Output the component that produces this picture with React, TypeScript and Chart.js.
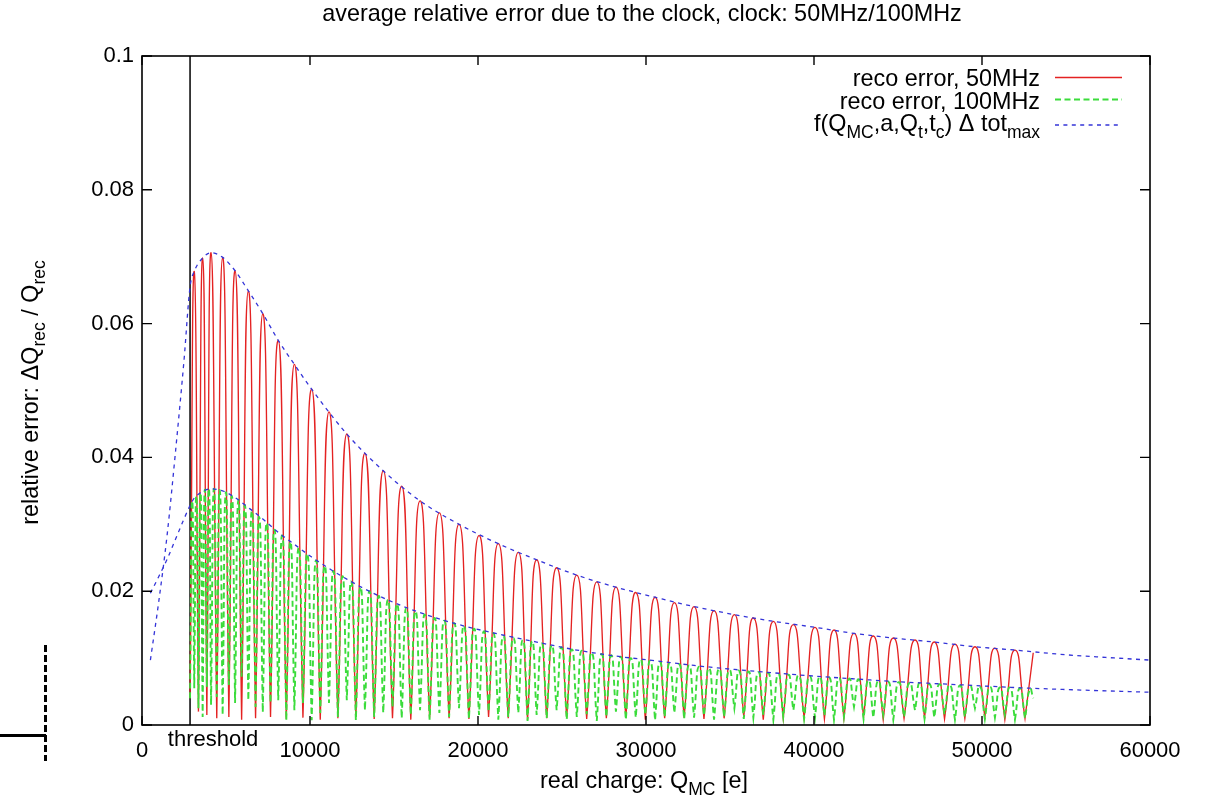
import React, { useEffect, useRef } from "react";
import { Chart, registerables } from "chart.js";

Chart.register(...registerables);

const FONT = '"Liberation Sans", Arial, Helvetica, sans-serif';

// ---------------- data ----------------
const thresholdQ = 2860;

const xTickValues = [0, 10000, 20000, 30000, 40000, 50000, 60000];
const xTickLabels = ["0", "10000", "20000", "30000", "40000", "50000", "60000"];
const yTickValues = [0, 0.02, 0.04, 0.06, 0.08, 0.1];
const yTickLabels = ["0", "0.02", "0.04", "0.06", "0.08", "0.1"];

// 50 MHz reconstruction error: cusps (troughs) and arch tops
const redTroughQ = [2860, 3360, 3860, 4450, 5170, 5930, 6760, 7650, 8590, 9580, 10610, 11660, 12730, 13820, 14910, 16000, 17120, 18280, 19460, 20630, 21800, 22950, 24090, 25280, 26470, 27640, 28800, 29960, 31110, 32270, 33450, 34650, 35820, 36980, 38170, 39410, 40620, 41780, 42950, 44120, 45360, 46580, 47770, 48980, 50170, 51360, 52560];
const redTroughVal = [0.004, 0.002, 0.0015, 0.001, 0.0012, 0.0008, 0.001, 0.0012, 0.0009, 0.0011, 0.0008, 0.001, 0.0012, 0.0009, 0.001, 0.0008, 0.0011, 0.001, 0.0009, 0.0012, 0.001, 0.0008, 0.001, 0.0011, 0.0009, 0.001, 0.0012, 0.0008, 0.001, 0.0011, 0.0009, 0.001, 0.0012, 0.0008, 0.001, 0.0011, 0.0009, 0.001, 0.0012, 0.0008, 0.001, 0.0011, 0.0009, 0.001, 0.0012, 0.0008, 0.001];
const redPeakQ = [3110, 3610, 4110, 4800, 5540, 6330, 7190, 8110, 9070, 10100, 11130, 12190, 13270, 14360, 15460, 16550, 17700, 18870, 20060, 21210, 22400, 23490, 24680, 25880, 27070, 28210, 29390, 30540, 31690, 32860, 34050, 35260, 36390, 37580, 38770, 40060, 41190, 42380, 43530, 44720, 46010, 47160, 48390, 49580, 50770, 51960];
const redPeakVal = [0.0678, 0.0698, 0.0706, 0.0699, 0.0679, 0.0649, 0.0615, 0.0575, 0.0539, 0.0502, 0.0468, 0.0435, 0.0406, 0.038, 0.0357, 0.0335, 0.0317, 0.03, 0.0283, 0.0271, 0.0258, 0.0247, 0.0235, 0.0224, 0.0214, 0.0206, 0.0198, 0.0191, 0.0183, 0.0177, 0.0171, 0.0165, 0.016, 0.0155, 0.015, 0.0146, 0.0142, 0.0137, 0.0133, 0.013, 0.0127, 0.0124, 0.0121, 0.0117, 0.0115, 0.0112];
const redTailQ = [53050];
const redTailVal = [0.0108];

// 100 MHz reconstruction error
const greenTroughQ = [2860, 3110, 3360, 3610, 3860, 4110, 4450, 4800, 5170, 5540, 5930, 6330, 6760, 7190, 7650, 8110, 8590, 9070, 9580, 10100,
  10610, 11130, 11660, 12190, 12730, 13270, 13820, 14360, 14910, 15460, 16000, 16550, 17120, 17700, 18280, 18870, 19460, 20060, 20630, 21210,
  21800, 22400, 22950, 23490, 24090, 24680, 25280, 25880, 26470, 27070, 27640, 28210, 28800, 29390, 29960, 30540, 31110, 31690, 32270, 32860,
  33450, 34050, 34650, 35260, 35820, 36390, 36980, 37580, 38170, 38770, 39410, 40060, 40620, 41190, 41780, 42380, 42950, 43530, 44120, 44720,
  45360, 46010, 46580, 47160, 47770, 48390, 48980, 49580, 50170, 50770, 51360, 51960, 52560];
const greenTroughVal = [0.004, 0.0055, 0.0025, 0.0012, 0.0057, 0.003, 0.0042, 0.0015, 0.006, 0.0033, 0.0072, 0.0037, 0.0027, 0.0019, 0.0033, 0.0037, 0.0007, 0.0022, 0.0033, 0.0007,
  0.0018, 0.0033, 0.0012, 0.0037, 0.0007, 0.0022, 0.0012, 0.0018, 0.0027, 0.001, 0.0015, 0.0022, 0.0008, 0.0018, 0.0012, 0.0025, 0.0009, 0.0015, 0.002, 0.0008,
  0.0012, 0.0018, 0.0006, 0.0015, 0.001, 0.0022, 0.0008, 0.0012, 0.0016, 0.0006, 0.0012, 0.002, 0.0008, 0.0011, 0.0015, 0.0007, 0.0012, 0.0018, 0.0009, 0.0011,
  0.0014, 0.0008, 0.0012, 0.0025, 0.0009, 0.0011, 0.0015, 0.0008, 0.0012, 0.0022, 0.0009, 0.0011, 0.0014, 0.0008, 0.0012, 0.0027, 0.0009, 0.0011, 0.0015, 0.0008,
  0.0012, 0.0022, 0.0009, 0.0011, 0.0016, 0.0008, 0.0012, 0.0025, 0.0009, 0.0011, 0.0015, 0.0008, 0.001];
const greenPeakQ = [2985, 3235, 3485, 3735, 3985, 4280, 4625, 4985, 5355, 5735,
  6130, 6545, 6975, 7420, 7880, 8350, 8830, 9325, 9840, 10355,
  10870, 11395, 11925, 12460, 13000, 13545, 14090, 14635, 15185, 15730,
  16275, 16835, 17410, 17990, 18575, 19165, 19760, 20345, 20920, 21505,
  22100, 22675, 23220, 23790, 24385, 24980, 25580, 26175, 26770, 27355,
  27925, 28505, 29095, 29675, 30250, 30825, 31400, 31980, 32565, 33155,
  33750, 34350, 34955, 35540, 36105, 36685, 37280, 37875, 38470, 39090,
  39735, 40340, 40905, 41485, 42080, 42665, 43240, 43825, 44420, 45040,
  45685, 46295, 46870, 47465, 48080, 48685, 49280, 49875, 50470, 51065,
  51660, 52260];
const greenPeakVal = [0.0335, 0.0342, 0.0347, 0.0351, 0.0353, 0.0353, 0.0351, 0.0347, 0.0342, 0.0336,
  0.0328, 0.032, 0.0311, 0.0302, 0.0292, 0.0283, 0.0274, 0.0265, 0.0256, 0.0246,
  0.0238, 0.023, 0.0222, 0.0214, 0.0206, 0.02, 0.0193, 0.0187, 0.0181, 0.0175,
  0.017, 0.0165, 0.016, 0.0156, 0.0152, 0.0148, 0.0144, 0.014, 0.0137, 0.0133,
  0.013, 0.0127, 0.0125, 0.0122, 0.0119, 0.0116, 0.0113, 0.0111, 0.0108, 0.0106,
  0.0104, 0.0102, 0.01, 0.0098, 0.0096, 0.0094, 0.0092, 0.0091, 0.0089, 0.0087,
  0.0085, 0.0084, 0.0082, 0.0081, 0.008, 0.0079, 0.0078, 0.0076, 0.0075, 0.0074,
  0.0073, 0.0072, 0.0071, 0.007, 0.0069, 0.0068, 0.0067, 0.0066, 0.0065, 0.0064,
  0.0063, 0.0062, 0.0061, 0.0061, 0.006, 0.0059, 0.0058, 0.0058, 0.0057, 0.0056,
  0.0056, 0.0055];
const greenTailQ = [52860, 53050];
const greenTailVal = [0.0054, 0.004];

// f(Q_MC,a,Q_t,t_c) * Δtot_max envelopes
const envQ = [500, 1000, 1500, 2000, 2500, 2860, 3110, 3610, 4110, 4800, 5540, 6330, 7190, 8110, 9070, 10100, 12190, 14360, 16550, 18870, 21210, 23490, 25880, 28210, 30540, 32860, 35260, 37580, 40060, 42380, 44720, 47160, 49580, 51960, 55000, 60000];
const env50 = [0.0097, 0.0185, 0.0285, 0.041, 0.0545, 0.0655, 0.0678, 0.0698, 0.0706, 0.0699, 0.0679, 0.0649, 0.0615, 0.0575, 0.0539, 0.0502, 0.0435, 0.038, 0.0335, 0.03, 0.0271, 0.0247, 0.0224, 0.0206, 0.0191, 0.0177, 0.0165, 0.0155, 0.0146, 0.0137, 0.013, 0.0124, 0.0117, 0.0112, 0.0105, 0.0097];
const env100 = [0.0197, 0.0222, 0.0248, 0.0278, 0.0308, 0.0328, 0.0339, 0.0349, 0.0353, 0.035, 0.034, 0.0325, 0.0308, 0.0288, 0.027, 0.0251, 0.0218, 0.019, 0.0168, 0.015, 0.0136, 0.0124, 0.0112, 0.0103, 0.0096, 0.0089, 0.0083, 0.0078, 0.0073, 0.0069, 0.0065, 0.0062, 0.0059, 0.0056, 0.0053, 0.0049];

const titleText = "average relative error due to the clock, clock: 50MHz/100MHz";
type Seg = [string, boolean?];
const xTitle: Seg[] = [["real charge: Q"], ["MC", true], [" [e]"]];
const yTitle: Seg[] = [["relative error: \u0394Q"], ["rec", true], [" / Q"], ["rec", true]];
const legendRows: Seg[][] = [
  [["reco error, 50MHz"]],
  [["reco error, 100MHz"]],
  [["f(Q"], ["MC", true], [",a,Q"], ["t", true], [",t"], ["c", true], [") \u0394 tot"], ["max", true]],
];

const RED = "#e42222";
const GREEN = "#3bdc3b";
const BLUE = "#3434d8";
const BASE = 23.4;
const SUB = 17.5;

// ---------------- helpers ----------------
function archPoints(tq: number[], tv: number[], pq: number[], pv: number[], tailQ: number[], tailV: number[]) {
  const pts: { x: number; y: number }[] = [];
  for (let i = 0; i < pq.length; i++) {
    pts.push({ x: tq[i], y: tv[i] });
    pts.push({ x: pq[i], y: pv[i] });
    pts.push({ x: tq[i + 1], y: tv[i + 1] });
  }
  const last = tq.length - 1;
  pts.push({ x: tq[last], y: tv[last] });
  for (let i = 0; i < tailQ.length; i++) pts.push({ x: tailQ[i], y: tailV[i] });
  return pts;
}

function drawRich(ctx: CanvasRenderingContext2D, segs: Seg[], x: number, y: number, align: string, size: number, subSize: number) {
  let w = 0;
  for (const [t, sub] of segs) {
    ctx.font = `${sub ? subSize : size}px ${FONT}`;
    w += ctx.measureText(t).width;
  }
  let cx = align === "left" ? x : align === "center" ? x - w / 2 : x - w;
  ctx.textAlign = "left";
  ctx.textBaseline = "alphabetic";
  for (const [t, sub] of segs) {
    ctx.font = `${sub ? subSize : size}px ${FONT}`;
    ctx.fillText(t, cx, sub ? y + size * 0.3 : y);
    cx += ctx.measureText(t).width;
  }
}

const decor = {
  id: "decor",
  beforeDatasetsDraw(chart: any) {
    const { ctx, chartArea: a, scales } = chart;
    const tx = scales.x.getPixelForValue(thresholdQ);
    ctx.save();
    ctx.strokeStyle = "#000";
    ctx.lineWidth = 1.5;
    ctx.beginPath();
    ctx.moveTo(tx, a.top);
    ctx.lineTo(tx, a.bottom);
    ctx.stroke();
    ctx.restore();
  },
  afterDatasetsDraw(chart: any) {
    const { ctx, chartArea: a, scales } = chart;
    ctx.save();
    ctx.strokeStyle = "#000";
    ctx.lineWidth = 1.6;
    ctx.setLineDash([]);
    ctx.strokeRect(a.left, a.top, a.right - a.left, a.bottom - a.top);
    ctx.lineWidth = 1.4;
    ctx.beginPath();
    for (const v of xTickValues) {
      const px = scales.x.getPixelForValue(v);
      ctx.moveTo(px, a.bottom);
      ctx.lineTo(px, a.bottom - 9);
      ctx.moveTo(px, a.top);
      ctx.lineTo(px, a.top + 9);
    }
    for (const v of yTickValues) {
      const py = scales.y.getPixelForValue(v);
      ctx.moveTo(a.left, py);
      ctx.lineTo(a.left + 10, py);
      ctx.moveTo(a.right, py);
      ctx.lineTo(a.right - 10, py);
    }
    ctx.stroke();

    ctx.fillStyle = "#000";
    const tx = scales.x.getPixelForValue(thresholdQ);
    drawRich(ctx, [["threshold"]], tx + 23, a.bottom + 21, "center", 22, SUB);
    drawRich(ctx, [[titleText]], (a.left + a.right) / 2 - 4, 21, "center", BASE, SUB);
    drawRich(ctx, xTitle, (a.left + a.right) / 2 - 2, a.bottom + 63, "center", BASE, SUB);
    ctx.save();
    ctx.translate(38, (a.top + a.bottom) / 2 + 2);
    ctx.rotate(-Math.PI / 2);
    drawRich(ctx, yTitle, 0, 0, "center", BASE, SUB);
    ctx.restore();

    // legend
    const textRight = a.right - 110;
    const lx0 = a.right - 95;
    const lx1 = a.right - 28;
    const baselines = [a.top + 30, a.top + 52.5, a.top + 75];
    const lineYs = [a.top + 21.5, a.top + 43.5, a.top + 69];
    const styles = [
      { c: RED, w: 1.5, d: [] as number[] },
      { c: GREEN, w: 2, d: [6, 3.5] },
      { c: BLUE, w: 1.4, d: [4, 4.4] },
    ];
    for (let i = 0; i < legendRows.length; i++) {
      ctx.fillStyle = "#000";
      drawRich(ctx, legendRows[i], textRight, baselines[i], "right", BASE, SUB);
      ctx.strokeStyle = styles[i].c;
      ctx.lineWidth = styles[i].w;
      ctx.setLineDash(styles[i].d);
      ctx.beginPath();
      ctx.moveTo(lx0, lineYs[i]);
      ctx.lineTo(lx1, lineYs[i]);
      ctx.stroke();
    }
    ctx.restore();
  },
};

export default function App() {
  const ref = useRef<HTMLCanvasElement | null>(null);
  useEffect(() => {
    if (!ref.current) return;
    const chart = new Chart(ref.current, {
      type: "line",
      data: {
        datasets: [
          {
            label: "reco error, 50MHz",
            data: archPoints(redTroughQ, redTroughVal, redPeakQ, redPeakVal, redTailQ, redTailVal),
            borderColor: RED,
            borderWidth: 1.35,
            tension: 0.6,
            pointRadius: 0,
            fill: false,
            order: 3,
          },
          {
            label: "reco error, 100MHz",
            data: archPoints(greenTroughQ, greenTroughVal, greenPeakQ, greenPeakVal, greenTailQ, greenTailVal),
            borderColor: GREEN,
            borderWidth: 1.9,
            borderDash: [6, 3.5],
            tension: 0.6,
            pointRadius: 0,
            fill: false,
            order: 2,
          },
          {
            label: "envelope 50MHz",
            data: envQ.map((q, i) => ({ x: q, y: env50[i] })),
            borderColor: BLUE,
            borderWidth: 1.3,
            borderDash: [4, 4.4],
            cubicInterpolationMode: "monotone",
            pointRadius: 0,
            fill: false,
            order: 1,
          },
          {
            label: "envelope 100MHz",
            data: envQ.map((q, i) => ({ x: q, y: env100[i] })),
            borderColor: BLUE,
            borderWidth: 1.3,
            borderDash: [4, 4.4],
            cubicInterpolationMode: "monotone",
            pointRadius: 0,
            fill: false,
            order: 1,
          },
        ],
      },
      options: {
        responsive: false,
        maintainAspectRatio: false,
        animation: false,
        events: [],
        layout: { padding: { left: 0, top: 56, right: 56, bottom: 0 } },
        plugins: {
          legend: { display: false },
          tooltip: { enabled: false },
          title: { display: false },
        },
        scales: {
          x: {
            type: "linear",
            min: 0,
            max: 60000,
            afterBuildTicks: (s: any) => {
              s.ticks = xTickValues.map((v) => ({ value: v }));
            },
            afterFit: (s: any) => {
              s.height = 70;
            },
            ticks: {
              callback: (_v: any, i: number) => xTickLabels[i],
              font: { family: FONT, size: 22 },
              color: "#000",
              padding: 13,
              maxRotation: 0,
              autoSkip: false,
            },
            grid: { display: false, drawTicks: false },
            border: { display: false },
          },
          y: {
            type: "linear",
            min: 0,
            max: 0.1,
            afterBuildTicks: (s: any) => {
              s.ticks = yTickValues.map((v) => ({ value: v }));
            },
            afterFit: (s: any) => {
              s.width = 142;
            },
            ticks: {
              callback: (_v: any, i: number) => yTickLabels[i],
              font: { family: FONT, size: 22 },
              color: "#000",
              padding: 8,
              autoSkip: false,
            },
            grid: { display: false, drawTicks: false },
            border: { display: false },
          },
        },
      },
      plugins: [decor],
    } as any);
    return () => chart.destroy();
  }, []);

  return (
    <div style={{ position: "fixed", left: 0, top: 0, width: 1206, height: 795, background: "#fff", overflow: "hidden" }}>
      <canvas ref={ref} width={1206} height={795} style={{ display: "block", width: 1206, height: 795 }} />
      <div
        style={{
          position: "absolute",
          left: 44,
          top: 645,
          width: 3,
          height: 116,
          background: "repeating-linear-gradient(to bottom, #000 0px, #000 7px, transparent 7px, transparent 10px)",
        }}
      />
      <div style={{ position: "absolute", left: 0, top: 734, width: 46, height: 3, background: "#000" }} />
    </div>
  );
}
